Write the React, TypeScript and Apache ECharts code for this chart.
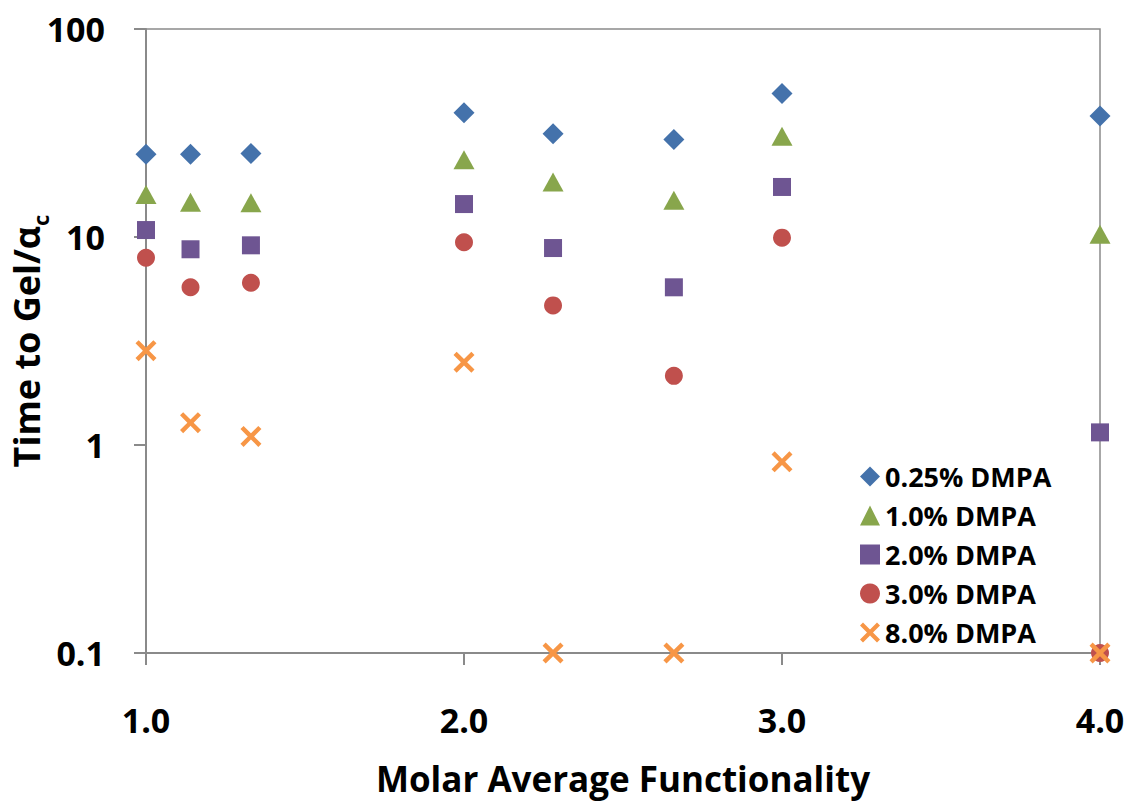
import React, { useEffect, useRef } from "react";
import * as echarts from "echarts";

const xValues = [1.0, 1.14, 1.33, 2.0, 2.28, 2.66, 3.0, 4.0];
const dmpa025 = [25, 25, 25.2, 39.6, 31.4, 29.4, 48.9, 38.2];
const dmpa10 = [16.0, 14.7, 14.6, 23.5, 18.4, 15.0, 30.5, 10.3];
const dmpa20 = [10.8, 8.73, 9.12, 14.4, 8.85, 5.73, 17.4, 1.15];
const dmpa30 = [7.95, 5.73, 6.03, 9.43, 4.69, 2.15, 9.93, 0.1];
const dmpa80 = [2.84, 1.28, 1.1, 2.5, 0.1, 0.1, 0.83, 0.1];

const seriesNames = ["0.25% DMPA", "1.0% DMPA", "2.0% DMPA", "3.0% DMPA", "8.0% DMPA"];
const xTickLabels = ["1.0", "2.0", "3.0", "4.0"];

const FONT = "'Open Sans', 'Liberation Sans', sans-serif";
const CROSS =
  "path://M0,3 L3,0 L10,7 L17,0 L20,3 L13,10 L20,17 L17,20 L10,13 L3,20 L0,17 L7,10 Z";

export default function App() {
  const ref = useRef<HTMLDivElement>(null);
  useEffect(() => {
    document.body.style.margin = "0";
    if (!ref.current) return;
    const chart = echarts.init(ref.current, undefined, { renderer: "svg" });
    const pairs = (ys: number[]) => xValues.map((x, i) => [x, ys[i]]);
    const mk = (
      name: string,
      ys: number[],
      symbol: string,
      size: number | number[],
      color: string
    ) => ({
      name,
      type: "scatter",
      data: pairs(ys),
      symbol,
      symbolSize: size,
      clip: false,
      itemStyle: { color, opacity: 1 },
      emphasis: { disabled: true },
    });
    chart.setOption({
      animation: false,
      grid: {
        left: 146,
        right: 33,
        top: 29,
        bottom: 149,
        outerBoundsMode: "none",
        containLabel: false,
        show: true,
        borderColor: "#8a8a8a",
        borderWidth: 1.5,
        backgroundColor: "transparent",
      },
      legend: {
        orient: "vertical",
        left: 855,
        top: 458,
        itemWidth: 20,
        itemHeight: 20,
        itemGap: 12,
        textStyle: {
          fontFamily: FONT,
          fontWeight: "bold",
          fontSize: 27,
          color: "#000",
        },
        data: seriesNames,
      },
      xAxis: {
        type: "value",
        min: 1,
        max: 4,
        interval: 1,
        name: "Molar Average Functionality",
        nameLocation: "middle",
        nameGap: 108,
        nameMoveOverlap: false,
        nameTextStyle: {
          fontFamily: FONT,
          fontWeight: "bold",
          fontSize: 35,
          color: "#000",
        },
        axisLine: { show: true, lineStyle: { color: "#8a8a8a", width: 2 } },
        axisTick: { show: true, inside: false, length: 12, lineStyle: { color: "#8a8a8a", width: 2 } },
        splitLine: { show: false },
        axisLabel: {
          margin: 50,
          fontFamily: FONT,
          fontWeight: "bold",
          fontSize: 34,
          color: "#000",
          formatter: (v: number) => xTickLabels[Math.round(v) - 1] ?? v.toFixed(1),
        },
      },
      yAxis: {
        type: "log",
        logBase: 10,
        min: 0.1,
        max: 100,
        name: "{m|Time to Gel/α}{s|c}",
        nameLocation: "middle",
        nameGap: 95,
        nameMoveOverlap: false,
        nameTextStyle: {
          fontFamily: FONT,
          fontWeight: "bold",
          fontSize: 36,
          color: "#000",
          rich: {
            m: {
              fontFamily: FONT,
              fontWeight: "bold",
              fontSize: 36,
              color: "#000",
              lineHeight: 50,
              verticalAlign: "middle",
            },
            s: {
              fontFamily: FONT,
              fontWeight: "bold",
              fontSize: 22,
              color: "#000",
              lineHeight: 22,
              verticalAlign: "bottom",
            },
          },
        },
        axisLine: { show: true, lineStyle: { color: "#8a8a8a", width: 2 } },
        axisTick: { show: true, inside: false, length: 12, lineStyle: { color: "#8a8a8a", width: 2 } },
        minorTick: { show: false },
        splitLine: { show: false },
        axisLabel: {
          margin: 41,
          fontFamily: FONT,
          fontWeight: "bold",
          fontSize: 34,
          color: "#000",
          formatter: (v: number) => {
            if (Math.abs(v - 0.1) < 1e-6) return "0.1";
            return String(Math.round(v));
          },
        },
      },
      series: [
        mk(seriesNames[0], dmpa025, "diamond", [21, 21], "#4472AB"),
        mk(seriesNames[1], dmpa10, "triangle", [21, 19], "#88A64C"),
        mk(seriesNames[2], dmpa20, "rect", [18, 18], "#6E5592"),
        mk(seriesNames[3], dmpa30, "circle", [18, 18], "#C0504D"),
        mk(seriesNames[4], dmpa80, CROSS, [21, 21], "#F79646"),
      ],
    });
    return () => chart.dispose();
  }, []);
  return <div ref={ref} style={{ width: 1133, height: 802 }} />;
}
